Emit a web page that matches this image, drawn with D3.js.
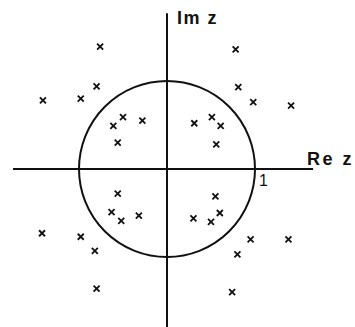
<!DOCTYPE html>
<html>
<head>
<meta charset="utf-8">
<script src="https://cdn.jsdelivr.net/npm/d3@7"></script>
<style>
html,body{margin:0;padding:0;background:#fff;}
svg{display:block;}
</style>
</head>
<body>
<svg id="chart" width="355" height="327"></svg>
<script>
// Zeros / poles in the complex plane (Re, Im)
const reValues = [
  -0.76,-0.80,-1.41,-0.98,-0.50,-0.61,-0.28,-0.56,
   0.78, 0.81, 0.98, 1.41, 0.31, 0.51, 0.61, 0.56,
  -0.56,-0.63,-0.52,-0.32,-1.42,-0.98,-0.82,-0.80,
   0.55, 0.30, 0.60, 0.50, 0.95, 1.38, 0.80, 0.74
];
const imValues = [
   1.39, 0.94, 0.78, 0.80, 0.59, 0.49, 0.55, 0.30,
   1.36, 0.93, 0.76, 0.72, 0.52, 0.59, 0.49, 0.28,
  -0.28,-0.49,-0.59,-0.53,-0.73,-0.77,-0.93,-1.36,
  -0.31,-0.56,-0.50,-0.60,-0.80,-0.80,-0.97,-1.40
];
const unitRadius = [1];
const axisLabels = ["Re z", "Im z"];
const tickLabels = ["1"];
const reExtent = [-1.75, 1.66];
const imExtent = [-1.80, 1.77];

const svg = d3.select("#chart");
const x = d3.scaleLinear().domain([-1, 1]).range([79, 255]);
const y = d3.scaleLinear().domain([-1, 1]).range([257, 81]);

const ink = "#111";

// Axes
svg.append("line")
  .attr("x1", x(reExtent[0])).attr("x2", x(reExtent[1]))
  .attr("y1", y(0)).attr("y2", y(0))
  .attr("stroke", ink).attr("stroke-width", 2);
svg.append("line")
  .attr("x1", x(0)).attr("x2", x(0))
  .attr("y1", y(imExtent[0])).attr("y2", y(imExtent[1]))
  .attr("stroke", ink).attr("stroke-width", 2);

// Unit circle
svg.selectAll("circle.unit").data(unitRadius).enter().append("circle")
  .attr("class", "unit")
  .attr("cx", x(0)).attr("cy", y(0))
  .attr("r", d => x(d) - x(0))
  .attr("fill", "none").attr("stroke", ink).attr("stroke-width", 2);

// Markers
const pts = reValues.map((r, i) => ({re: r, im: imValues[i]}));
const s = 3;
const g = svg.append("g");
g.selectAll("path.mark").data(pts).enter().append("path")
  .attr("class", "mark")
  .attr("d", d => {
    const cx = x(d.re), cy = y(d.im);
    return `M${cx - s},${cy - s}L${cx + s},${cy + s}M${cx - s},${cy + s}L${cx + s},${cy - s}`;
  })
  .attr("stroke", ink).attr("stroke-width", 1.8).attr("fill", "none");

// Labels
svg.append("text")
  .attr("x", 307).attr("y", 165)
  .attr("font-family", "Liberation Sans, Arial, sans-serif")
  .attr("font-size", 18).attr("font-weight", "bold")
  .attr("letter-spacing", 2.5)
  .attr("fill", ink)
  .text(axisLabels[0]);
svg.append("text")
  .attr("x", 177).attr("y", 24)
  .attr("font-family", "Liberation Sans, Arial, sans-serif")
  .attr("font-size", 18).attr("font-weight", "bold")
  .attr("letter-spacing", 1.5)
  .attr("fill", ink)
  .text(axisLabels[1]);
svg.append("text")
  .attr("x", x(1) + 4).attr("y", y(0) + 17)
  .attr("font-family", "Liberation Sans, Arial, sans-serif")
  .attr("font-size", 16)
  .attr("fill", ink)
  .text(tickLabels[0]);
</script>
</body>
</html>
